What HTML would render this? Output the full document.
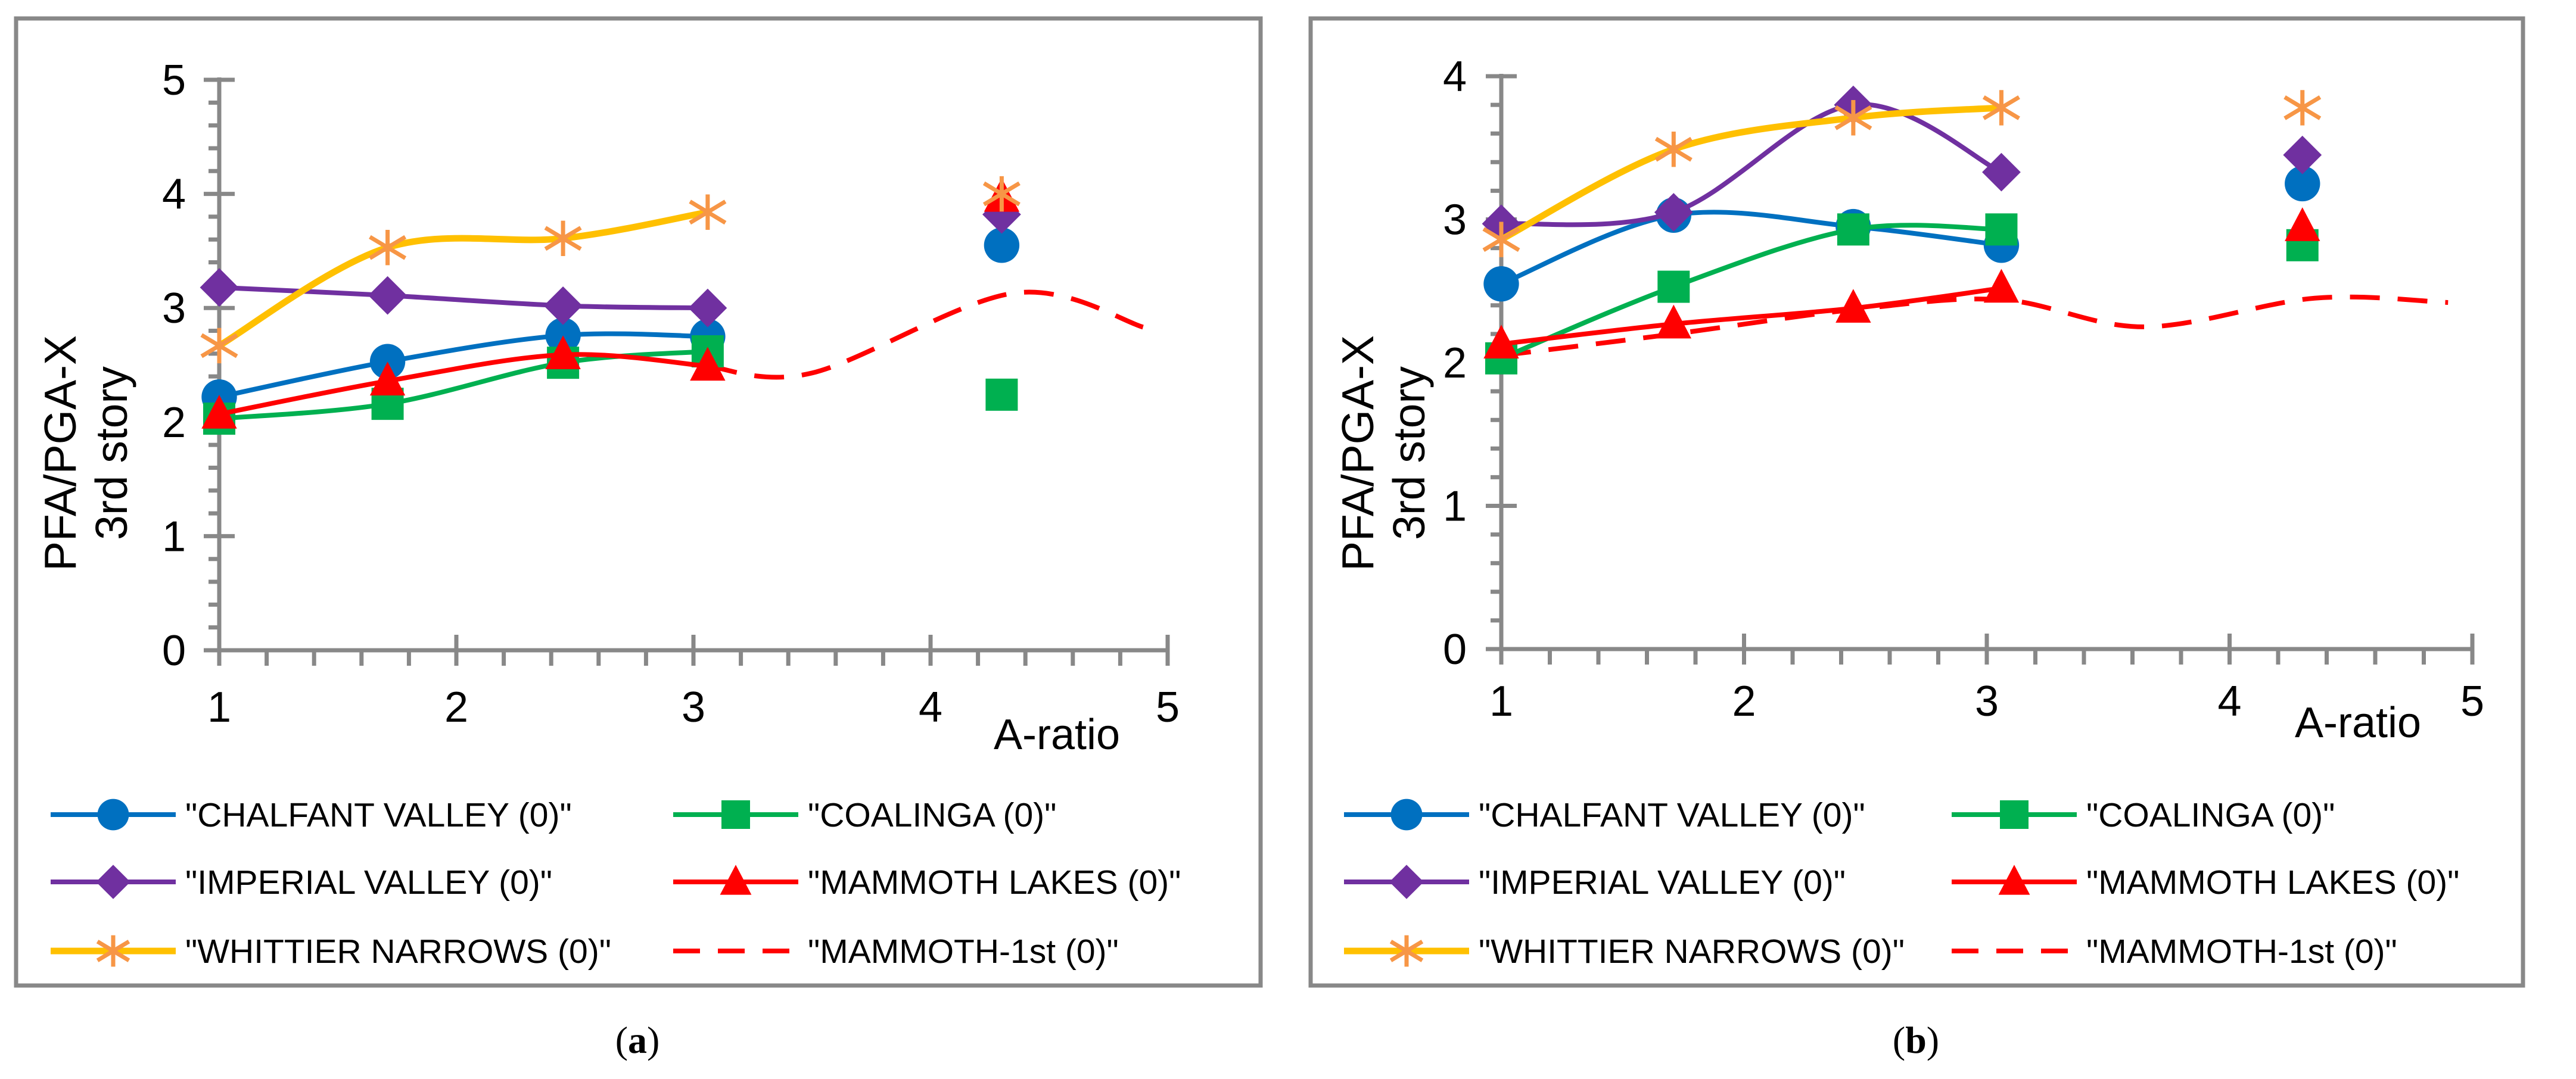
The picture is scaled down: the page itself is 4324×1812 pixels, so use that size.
<!DOCTYPE html>
<html><head><meta charset="utf-8"><style>
html,body{margin:0;padding:0;background:#fff;}
svg{display:block;}
text{font-family:"Liberation Sans",Arial,sans-serif;fill:#000;}
</style></head><body>
<svg id="fig" xmlns="http://www.w3.org/2000/svg" width="4324" height="1812" viewBox="0 0 4324 1812"></svg>
<script>
// ---- data ----
const xCats = [1, 1.71, 2.45, 3.06];
const xIso = 4.3;
const seriesNames = ['"CHALFANT VALLEY (0)"','"COALINGA (0)"','"IMPERIAL VALLEY (0)"','"MAMMOTH LAKES (0)"','"WHITTIER NARROWS (0)"','"MAMMOTH-1st (0)"'];
const xTickLabels = ['1','2','3','4','5'];
// panel a
const aChalfant = [2.22, 2.53, 2.76, 2.75];
const aCoalinga = [2.03, 2.16, 2.52, 2.62];
const aImperial = [3.18, 3.11, 3.02, 3.00];
const aMammoth  = [2.07, 2.36, 2.59, 2.49];
const aWhittier = [2.67, 3.53, 3.61, 3.84];
const aIso = [3.55, 2.24, 3.82, 3.97, 4.00];
const aFirstX = [3.06, 3.5, 4.35, 4.9];
const aFirstY = [2.49, 2.43, 3.13, 2.83];
const aYTicks = ['0','1','2','3','4','5'];
// panel b
const bChalfant = [2.55, 3.03, 2.95, 2.82];
const bCoalinga = [2.03, 2.53, 2.93, 2.93];
const bImperial = [2.97, 3.05, 3.80, 3.33];
const bMammoth  = [2.13, 2.27, 2.38, 2.52];
const bWhittier = [2.86, 3.49, 3.71, 3.78];
const bIso = [3.25, 2.82, 3.45, 2.95, 3.78];
const bFirstX = [1, 1.71, 2.45, 3.06, 3.65, 4.35, 4.9];
const bFirstY = [2.05, 2.20, 2.37, 2.44, 2.25, 2.45, 2.42];
const bYTicks = ['0','1','2','3','4'];

const NS='http://www.w3.org/2000/svg';
const svg=document.getElementById('fig');
function mk(tag,attrs,parent){const e=document.createElementNS(NS,tag);for(const k in attrs)e.setAttribute(k,attrs[k]);(parent||svg).appendChild(e);return e;}
const colors=['#0070C0','#00B050','#7030A0','#FF0000','#FFC000'];
const markerCol=['#0070C0','#00B050','#7030A0','#FF0000','#F79646'];
const shapes=['circle','square','diamond','triangle','star'];

function smoothPath(pts){
  let d='M'+pts[0][0]+','+pts[0][1];
  for(let i=0;i<pts.length-1;i++){
    const p0=pts[i-1]||pts[i],p1=pts[i],p2=pts[i+1],p3=pts[i+2]||p2;
    const t=1/6;
    const c1=[p1[0]+(p2[0]-p0[0])*t,p1[1]+(p2[1]-p0[1])*t];
    const c2=[p2[0]-(p3[0]-p1[0])*t,p2[1]-(p3[1]-p1[1])*t];
    d+=' C'+c1[0]+','+c1[1]+' '+c2[0]+','+c2[1]+' '+p2[0]+','+p2[1];
  }
  return d;
}
function marker(g,shape,x,y,col,s){
  let e;
  if(shape==='circle')e=mk('circle',{cx:x,cy:y,r:s*0.55,fill:col},g);
  else if(shape==='square')e=mk('rect',{x:x-s*0.5,y:y-s*0.5,width:s,height:s,fill:col},g);
  else if(shape==='diamond')e=mk('polygon',{points:`${x},${y-s*0.6} ${x+s*0.6},${y} ${x},${y+s*0.6} ${x-s*0.6},${y}`,fill:col},g);
  else if(shape==='triangle')e=mk('polygon',{points:`${x},${y-s*0.6} ${x+s*0.55},${y+s*0.45} ${x-s*0.55},${y+s*0.45}`,fill:col},g);
  else {e=mk('g',{},g);const r=s*0.55;
    mk('path',{d:`M${x-r},${y-r*0.6}L${x+r},${y+r*0.6}M${x-r},${y+r*0.6}L${x+r},${y-r*0.6}M${x},${y-r}L${x},${y+r}`,stroke:col,'stroke-width':7,fill:'none'},e);}
  return e;
}

function panel(cfg){
  const g=mk('g',{});
  
  
  const fr=mk('rect',{x:cfg.fx,y:31,width:cfg.fw,height:1624,fill:'none',stroke:'#888','stroke-width':7},g);
  
  
  const X=v=>cfg.x1+(v-1)*(cfg.x5-cfg.x1)/4;
  const Y=v=>cfg.y0-v*(cfg.y0-cfg.yTop)/cfg.yMax;
  const ax=mk('g',{},g);
  
  
  mk('line',{x1:X(1),y1:Y(0)+4,x2:X(1),y2:Y(cfg.yMax)-4,stroke:'#888','stroke-width':7},ax);
  for(let v=0;v<=cfg.yMax*5;v++){const yy=Y(v/5);const major=v%5===0;
    mk('line',{x1:X(1)-(major?26:18),y1:yy,x2:major?X(1)+26:X(1),y2:yy,stroke:'#888','stroke-width':7},ax);}
  cfg.yTicks.forEach((t,i)=>{const e=mk('text',{x:cfg.ylx,y:Y(i)+25,'font-size':72,'text-anchor':'end'},ax);e.textContent=t;
    
    });
  const xa=mk('g',{},g);
  
  
  mk('line',{x1:X(1)-26,y1:Y(0),x2:X(5)+3,y2:Y(0),stroke:'#888','stroke-width':7},xa);
  for(let v=0;v<=20;v++){const xx=X(1+v/5);const major=v%5===0;
    mk('line',{x1:xx,y1:major?Y(0)-26:Y(0),x2:xx,y2:Y(0)+26,stroke:'#888','stroke-width':7},xa);}
  xTickLabels.forEach((t,i)=>{const e=mk('text',{x:X(i+1),y:cfg.xly,'font-size':72,'text-anchor':'middle'},xa);e.textContent=t;
    
    });
  const xt=mk('text',{x:cfg.atx,y:cfg.aty,'font-size':72,'text-anchor':'middle'},g);xt.textContent='A-ratio';
  
  
  const yt=mk('text',{transform:`translate(${cfg.ytx},761) rotate(-90)`,'font-size':75,'text-anchor':'middle'},g);
  
  
  mk('tspan',{x:0,dy:0},yt).textContent='PFA/PGA-X';
  mk('tspan',{x:0,dy:86},yt).textContent='3rd story';
  const dpts=cfg.firstX.map((v,i)=>[X(v),Y(cfg.firstY[i])]);
  const dp=mk('path',{d:smoothPath(dpts),fill:'none',stroke:'#FF0000','stroke-width':8,'stroke-dasharray':'50,30'},g);
  
  
  cfg.series.forEach((vals,si)=>{
    const sg=mk('g',{},g);
    
    
    const pts=xCats.map((v,i)=>[X(v),Y(vals[i])]);
    mk('path',{d:smoothPath(pts),fill:'none',stroke:colors[si],'stroke-width':si===4?11:8},sg);
    pts.forEach(p=>{const m=marker(sg,shapes[si],p[0],p[1],markerCol[si],54);
      
      });
    const m=marker(sg,shapes[si],X(xIso),Y(cfg.iso[si]),markerCol[si],54);
    
    
  });
  const lg=mk('g',{},g);
  
  
  const rows=[1368,1481,1597];
  for(let i=0;i<6;i++){
    const col=i%2,row=Math.floor(i/2);
    const lx=col===0?cfg.l1:cfg.l2,yy=rows[row];
    const en=mk('g',{},lg);
    
    
    if(i<5){mk('line',{x1:lx,y1:yy,x2:lx+210,y2:yy,stroke:colors[i],'stroke-width':i===4?11:8},en);
      marker(en,shapes[i],lx+105,yy,markerCol[i],48);}
    else mk('line',{x1:lx,y1:yy,x2:lx+210,y2:yy,stroke:'#FF0000','stroke-width':8,'stroke-dasharray':'45,30'},en);
    const t=mk('text',{x:lx+226,y:yy+20,'font-size':57},en);t.textContent=seriesNames[i];
  }
  const cap=mk('text',{x:cfg.capx,y:1768,'font-size':64,'text-anchor':'middle','style':'font-family:"Liberation Serif",serif'},svg);
  
  
  mk('tspan',{},cap).textContent='(';
  mk('tspan',{'font-weight':'bold'},cap).textContent=cfg.cap;
  mk('tspan',{},cap).textContent=')';
}

panel({name:'chart-a',fx:27,fw:2089,x1:368,x5:1960,y0:1092,yTop:134,yMax:5,yTicks:aYTicks,ylx:312,xly:1212,atx:1774,aty:1258,ytx:127,
  series:[aChalfant,aCoalinga,aImperial,aMammoth,aWhittier],iso:aIso,firstX:aFirstX,firstY:aFirstY,l1:85,l2:1130,capx:1070,cap:'a'});
panel({name:'chart-b',fx:2200,fw:2035,x1:2520,x5:4150,y0:1090,yTop:128,yMax:4,yTicks:bYTicks,ylx:2462,xly:1202,atx:3958,aty:1238,ytx:2305,
  series:[bChalfant,bCoalinga,bImperial,bMammoth,bWhittier],iso:bIso,firstX:bFirstX,firstY:bFirstY,l1:2256,l2:3276,capx:3216,cap:'b'});
</script>
</body></html>
